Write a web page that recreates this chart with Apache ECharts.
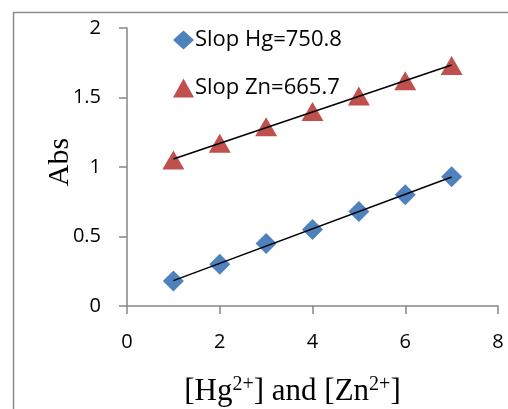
<!DOCTYPE html>
<html><head><meta charset="utf-8">
<script src="https://cdn.jsdelivr.net/npm/echarts@6/dist/echarts.min.js"></script>
<style>html,body{margin:0;padding:0;background:#fff}#c{width:508px;height:409px}</style>
</head><body><div id="c"></div>
<script>
const concentrations = [1, 2, 3, 4, 5, 6, 7];
const hgAbs = [0.18, 0.30, 0.45, 0.55, 0.68, 0.80, 0.93];
const znAbs = [1.05, 1.17, 1.29, 1.40, 1.51, 1.62, 1.73];
const hgLabel = 'Slop Hg=750.8';
const znLabel = 'Slop Zn=665.7';
const xTicks = [0, 2, 4, 6, 8];
const yTicks = [0, 0.5, 1, 1.5, 2];

function fit(xs, ys) {
  const n = xs.length;
  const mx = xs.reduce((a, b) => a + b, 0) / n;
  const my = ys.reduce((a, b) => a + b, 0) / n;
  let sxy = 0, sxx = 0;
  for (let i = 0; i < n; i++) { sxy += (xs[i] - mx) * (ys[i] - my); sxx += (xs[i] - mx) ** 2; }
  const m = sxy / sxx, b = my - m * mx;
  const x0 = xs[0], x1 = xs[n - 1];
  return [[x0, m * x0 + b], [x1, m * x1 + b]];
}

const chart = echarts.init(document.getElementById('c'));
const axisGray = '#868686';
chart.setOption({
  animation: false,
  graphic: [{ type: 'rect', left: 11, top: 10, shape: { width: 620, height: 520 },
    style: { fill: 'none', stroke: '#8c8c8c', lineWidth: 1.5 }, silent: true }],
  grid: { left: 127, right: 10, top: 28, bottom: 103, containLabel: false, outerBoundsMode: 'none' },
  legend: {
    data: [{ name: hgLabel, icon: 'diamond' }, { name: znLabel, icon: 'triangle' }],
    orient: 'vertical', left: 168, top: 24, itemGap: 26, itemWidth: 21, itemHeight: 19,
    textStyle: { fontFamily: 'Open Sans', fontSize: 22, color: '#000', padding: [0, 0, 0, -4] }
  },
  xAxis: {
    type: 'value', min: xTicks[0], max: xTicks[xTicks.length - 1], interval: 2,
    axisLine: { show: true, lineStyle: { color: axisGray, width: 1.5 } },
    axisTick: { show: true, length: 8, lineStyle: { color: axisGray, width: 1.5 } },
    splitLine: { show: false },
    axisLabel: { fontFamily: 'Open Sans', fontSize: 20, color: '#000', margin: 26 },
    name: '{t|[Hg}{s|2+}{t|] and [Zn}{s|2+}{t|]}',
    nameLocation: 'middle', nameGap: 69, nameMoveOverlap: false,
    nameTextStyle: {
      padding: [0, 40, 0, 0],
      rich: {
        t: { fontFamily: 'Liberation Serif', fontSize: 31, color: '#000', verticalAlign: 'bottom' },
        s: { fontFamily: 'Liberation Serif', fontSize: 20, color: '#000', verticalAlign: 'bottom', padding: [0, 0, 12, 0] }
      }
    }
  },
  yAxis: {
    type: 'value', min: yTicks[0], max: yTicks[yTicks.length - 1], interval: 0.5,
    axisLine: { show: true, lineStyle: { color: axisGray, width: 1.5 } },
    axisTick: { show: true, length: 8, lineStyle: { color: axisGray, width: 1.5 } },
    splitLine: { show: false },
    axisLabel: { fontFamily: 'Open Sans', fontSize: 20, color: '#000', margin: 26, padding: [5, 0, 0, 0] },
    name: 'Abs', nameLocation: 'middle', nameGap: 52, nameRotate: 90, nameMoveOverlap: false,
    nameTextStyle: { fontFamily: 'Liberation Serif', fontSize: 30, color: '#000', padding: [0, 0, 0, 10] }
  },
  series: [
    { name: 'fitHg', type: 'line', data: fit(concentrations, hgAbs), symbol: 'none',
      lineStyle: { color: '#000', width: 1.5 }, z: 3, silent: true },
    { name: 'fitZn', type: 'line', data: fit(concentrations, znAbs), symbol: 'none',
      lineStyle: { color: '#000', width: 1.5 }, z: 3, silent: true },
    { name: hgLabel, type: 'scatter', symbol: 'diamond', symbolSize: 21,
      data: concentrations.map((x, i) => [x, hgAbs[i]]), itemStyle: { color: '#4F81BD', opacity: 1 }, z: 2 },
    { name: znLabel, type: 'scatter', symbol: 'triangle', symbolSize: [22, 19],
      data: concentrations.map((x, i) => [x, znAbs[i]]), itemStyle: { color: '#C0504D', opacity: 1 }, z: 2 }
  ]
});
</script></body></html>
